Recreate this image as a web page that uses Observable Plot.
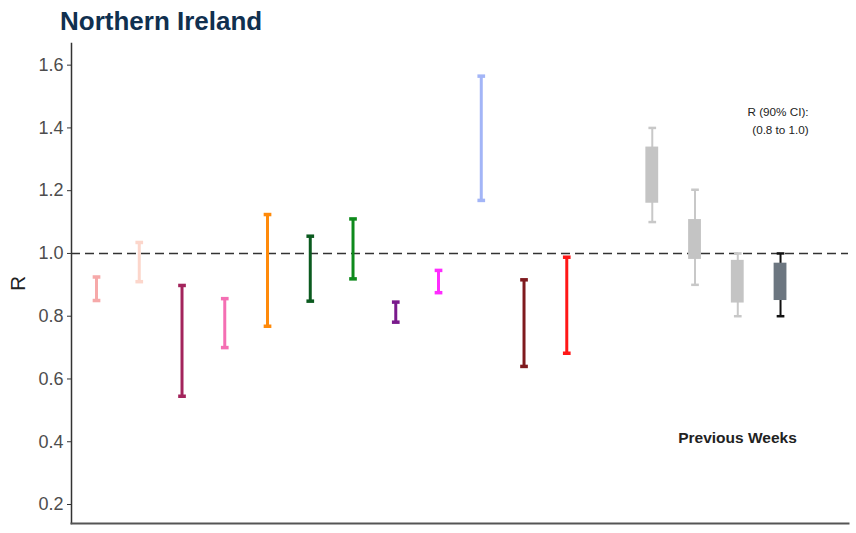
<!DOCTYPE html>
<html>
<head>
<meta charset="utf-8">
<script src="https://cdn.jsdelivr.net/npm/d3@7"></script>
<script src="https://cdn.jsdelivr.net/npm/@observablehq/plot@0.6"></script>
<style>
  html, body { margin: 0; padding: 0; background: #fff; }
  #wrap { position: relative; width: 856px; height: 533px; }
  #title { position: absolute; z-index: 2; left: 60px; top: 6px; font-family: "Liberation Sans", Arial, sans-serif; font-weight: bold; font-size: 26px; color: #10304f; line-height: 30px; white-space: nowrap; }
  #chart { position: absolute; z-index: 1; left: 0; top: 0; }
</style>
</head>
<body>
<div id="wrap">
  <div id="title">Northern Ireland</div>
  <div id="chart"></div>
</div>
<script>
// Current-week estimates by group (interval bars)
const groupPos   = [1, 2, 3, 4, 5, 6, 7, 8, 9, 10, 11, 12];
const groupLow   = [0.85, 0.91, 0.545, 0.70, 0.768, 0.848, 0.919, 0.781, 0.875, 1.169, 0.64, 0.682];
const groupHigh  = [0.925, 1.035, 0.898, 0.856, 1.124, 1.055, 1.11, 0.845, 0.946, 1.565, 0.916, 0.988];
const groupColor = ["#f6a9a9", "#fcd6cb", "#a3245c", "#f46fb3", "#ff8a0a", "#0b5a1f", "#0e8a1c", "#7a1a8c", "#ff2bff", "#a3b5f7", "#7f1a1e", "#ff1717"];

// Previous weeks (box = inner range, whisker = 90% CI)
const prevPos      = [14, 15, 16, 17];
const prevWhiskLo  = [1.10, 0.90, 0.80, 0.80];
const prevWhiskHi  = [1.40, 1.203, 1.00, 1.00];
const prevBoxLo    = [1.16, 0.981, 0.842, 0.85];
const prevBoxHi    = [1.339, 1.108, 0.978, 0.969];
const prevBoxColor = ["#c4c4c4", "#c4c4c4", "#c4c4c4", "#6c7680"];
const prevWhiskColor = ["#c8c8c8", "#c8c8c8", "#c8c8c8", "#111111"];

const yTicks = [0.2, 0.4, 0.6, 0.8, 1.0, 1.2, 1.4, 1.6];
const threshold = [1];
const noteLines = ["R (90% CI):", "(0.8 to 1.0)"];
const prevLabel = "Previous Weeks";

const groups = groupPos.map((x, i) => ({x, lo: groupLow[i], hi: groupHigh[i], c: groupColor[i]}));
const prev = prevPos.map((x, i) => ({x, wlo: prevWhiskLo[i], whi: prevWhiskHi[i], blo: prevBoxLo[i], bhi: prevBoxHi[i], bc: prevBoxColor[i], wc: prevWhiskColor[i]}));

const capHalf = 0.09;
const boxHalf = 0.15;

const font = "Liberation Sans, Arial, sans-serif";

const plot = Plot.plot({
  width: 856,
  height: 533,
  marginLeft: 71,
  marginRight: 8,
  marginTop: 43,
  marginBottom: 10,
  style: {fontFamily: font, background: "transparent"},
  x: {domain: [0.415, 18.59], axis: null},
  y: {domain: [0.1395, 1.669]},
  marks: [
    Plot.axisY({ticks: yTicks, tickFormat: d3.format(".1f"), fontSize: 18, color: "#4d4d4d", tickSize: 4, tickPadding: 4, label: null, stroke: "#333"}),
    Plot.ruleY(threshold, {stroke: "#333", strokeWidth: 1.6, strokeDasharray: "9,5"}),
    // grey previous weeks: whiskers
    Plot.ruleX(prev, {x: "x", y1: "wlo", y2: "whi", stroke: "wc", strokeWidth: 2}),
    Plot.link(prev, {x1: d => d.x - capHalf, x2: d => d.x + capHalf, y1: "wlo", y2: "wlo", stroke: "wc", strokeWidth: 2.5}),
    Plot.link(prev, {x1: d => d.x - capHalf, x2: d => d.x + capHalf, y1: "whi", y2: "whi", stroke: "wc", strokeWidth: 2.5}),
    Plot.rect(prev, {x1: d => d.x - boxHalf, x2: d => d.x + boxHalf, y1: "blo", y2: "bhi", fill: "bc"}),
    // coloured group intervals
    Plot.ruleX(groups, {x: "x", y1: "lo", y2: "hi", stroke: "c", strokeWidth: 3}),
    Plot.link(groups, {x1: d => d.x - capHalf, x2: d => d.x + capHalf, y1: "lo", y2: "lo", stroke: "c", strokeWidth: 3.5}),
    Plot.link(groups, {x1: d => d.x - capHalf, x2: d => d.x + capHalf, y1: "hi", y2: "hi", stroke: "c", strokeWidth: 3.5}),
    // axes lines
    Plot.frame({anchor: "left", stroke: "#333", strokeWidth: 1.5}),
    Plot.frame({anchor: "bottom", stroke: "#555", strokeWidth: 2}),
    // y label
    Plot.text(["R"], {frameAnchor: "left", dx: -53, rotate: -90, fontSize: 21, fill: "#222", textAnchor: "middle"}),
    // annotations
    Plot.text([noteLines[0]], {frameAnchor: "top-right", dx: -70.5, dy: 64, fontSize: 11.7, fill: "#222", textAnchor: "middle"}),
    Plot.text([noteLines[1]], {frameAnchor: "top-right", dx: -68, dy: 82, fontSize: 11.7, fill: "#222", textAnchor: "middle"}),
    Plot.text([prevLabel], {frameAnchor: "bottom-right", dx: -111, dy: -81, fontSize: 15.5, fontWeight: "bold", fill: "#222", textAnchor: "middle"})
  ]
});
document.getElementById("chart").appendChild(plot);
</script>
</body>
</html>
